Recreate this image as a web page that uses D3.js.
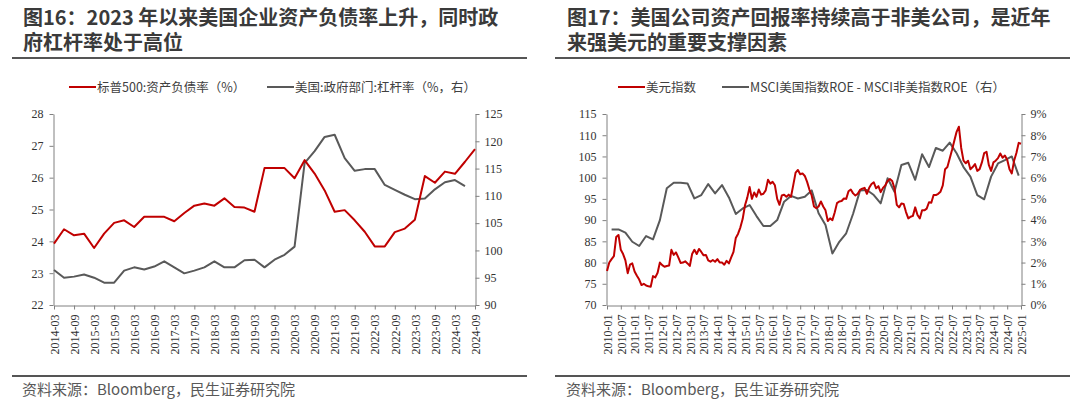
<!DOCTYPE html>
<html><head><meta charset="utf-8">
<script src="https://cdn.jsdelivr.net/npm/d3@7"></script>
<style>
body{margin:0;background:#fff;}
svg{display:block;}
</style></head><body>
<svg id="c" width="1080" height="407"></svg>
<script>
// ---------------- DATA ----------------
// Figure 16 (quarterly)
const leftTickLabels = ["2014-03","2014-09","2015-03","2015-09","2016-03","2016-09","2017-03","2017-09","2018-03","2018-09","2019-03","2019-09","2020-03","2020-09","2021-03","2021-09","2022-03","2022-09","2023-03","2023-09","2024-03","2024-09"];
const spDebtRatio = [23.93,24.38,24.19,24.24,23.79,24.24,24.58,24.66,24.45,24.77,24.77,24.77,24.63,24.89,25.12,25.19,25.12,25.35,25.08,25.06,24.93,26.30,26.30,26.30,25.98,26.55,26.13,25.60,24.93,24.98,24.66,24.30,23.84,23.84,24.29,24.40,24.68,26.05,25.84,26.19,26.12,26.50,26.90];
const usGovLeverage = [96.4,95.0,95.2,95.6,95.0,94.1,94.1,96.3,96.9,96.5,97.05,98.0,96.9,95.8,96.3,96.9,98.0,96.9,96.9,98.2,98.3,96.9,98.3,99.2,100.7,116.0,118.2,120.8,121.2,116.9,114.6,114.9,114.9,112.0,111.1,110.2,109.4,109.5,111.2,112.5,112.9,111.8];
const leftYTicks = [22,23,24,25,26,27,28];
const leftY2Ticks = [90,95,100,105,110,115,120,125];

// Figure 17 (monthly DXY, quarterly ROE spread)
const rightTickLabels = ["2010-01","2010-07","2011-01","2011-07","2012-01","2012-07","2013-01","2013-07","2014-01","2014-07","2015-01","2015-07","2016-01","2016-07","2017-01","2017-07","2018-01","2018-07","2019-01","2019-07","2020-01","2020-07","2021-01","2021-07","2022-01","2022-07","2023-01","2023-07","2024-01","2024-07","2025-01"];
const dollarIndex = [
 78.0,80.0,80.8,81.5,86.0,86.5,83.0,82.0,80.5,77.5,79.5,79.8,
 77.9,76.9,76.0,74.7,75.0,74.6,74.4,74.3,76.8,76.5,77.6,80.0,
 79.4,79.0,79.2,79.3,83.0,81.8,82.4,81.2,79.9,80.0,80.3,79.8,
 79.2,82.0,83.0,82.0,83.2,82.5,81.7,81.8,80.5,80.2,80.6,80.2,
 80.8,80.0,80.0,79.5,80.4,79.8,81.2,82.5,85.8,86.8,88.3,90.3,
 93.5,95.3,97.8,95.0,96.5,95.5,97.2,96.0,96.2,97.0,99.5,98.6,
 99.0,98.2,95.0,93.6,95.8,96.0,95.5,96.0,95.5,98.3,101.2,101.8,
 100.8,101.0,100.4,99.0,97.2,95.8,93.2,92.8,93.2,94.4,93.2,92.3,
 89.8,90.4,90.0,91.8,94.0,94.4,94.5,95.1,95.0,96.8,97.2,96.3,
 95.8,96.2,97.1,97.4,97.6,96.2,97.6,98.5,98.9,97.5,98.0,96.6,
 97.6,98.2,99.2,99.7,99.2,97.5,93.6,93.0,93.9,93.8,91.9,90.4,
 90.8,91.0,93.0,91.2,90.4,92.3,92.3,92.7,94.2,94.1,95.9,95.9,
 96.2,96.7,98.2,102.0,102.5,104.5,106.5,108.7,110.8,112.0,107.0,104.0,
 103.4,104.0,102.0,102.5,103.2,101.6,102.0,103.6,105.8,106.1,103.0,101.6,
 103.6,104.0,104.6,105.7,104.7,105.2,104.2,102.0,101.0,104.0,105.8,108.2,
 108.0];
const roeSpread = [3.56,3.56,3.41,2.98,2.78,3.25,3.09,4.0,5.5,5.76,5.76,5.73,5.02,5.18,5.7,5.26,5.65,5.07,4.29,4.55,4.71,4.19,3.72,3.72,4.0,4.87,5.14,5.02,5.1,5.4,4.32,3.77,2.43,2.98,3.38,4.3,5.39,5.42,5.18,4.79,5.97,5.34,6.6,6.7,5.9,7.1,6.5,7.4,7.27,7.65,7.15,6.5,6.05,5.18,4.98,6.05,6.67,6.83,7.0,6.1];
const rightYTicks = [70,75,80,85,90,95,100,105,110,115];
const rightY2Ticks = [0,1,2,3,4,5,6,7,8,9];

// category helpers (dates only, not values)
const fmt = d3.timeFormat("%Y-%m");
const quarters = d3.timeMonth.range(new Date(2014,2,1), new Date(2024,9,1), 3).map(fmt);   // 2014-03 .. 2024-09
const months = d3.timeMonth.range(new Date(2010,0,1), new Date(2025,1,1)).map(fmt);         // 2010-01 .. 2025-01
const roeDates = d3.timeMonth.range(new Date(2010,2,1), new Date(2025,0,1), 3).map(fmt);   // 2010-03 .. 2024-12

// ---------------- STYLE ----------------
const CJK = "'Noto Sans CJK SC','Noto Sans',sans-serif";
const NUM = "'Liberation Serif','Times New Roman',serif";
const RED = "#c00000", GRAY = "#595959", TXT = "#404040", AX = "#808080";

const svg = d3.select("#c");
svg.append("rect").attr("width",1080).attr("height",407).attr("fill","#fff");

function header(x, lines, lineX0, lineX1){
  lines.forEach((t,i)=>{
    svg.append("text").attr("x",x).attr("y",25+i*25).text(t)
      .attr("font-family",CJK).attr("font-size",20).attr("font-weight","bold").attr("fill","#3a3a3a");
  });
  svg.append("line").attr("x1",lineX0).attr("x2",lineX1).attr("y1",58).attr("y2",58)
    .attr("stroke","#555").attr("stroke-width",2);
  svg.append("line").attr("x1",lineX0).attr("x2",lineX1).attr("y1",376).attr("y2",376)
    .attr("stroke","#555").attr("stroke-width",2);
  svg.append("text").attr("x",x-1).attr("y",395).text("资料来源：Bloomberg，民生证券研究院")
    .attr("font-family",CJK).attr("font-size",15).attr("fill","#595959");
}
header(23, ["图16：2023 年以来美国企业资产负债率上升，同时政","府杠杆率处于高位"], 12, 527);
header(567, ["图17：美国公司资产回报率持续高于非美公司，是近年","来强美元的重要支撑因素"], 555, 1070);

function legend(items, y){
  items.forEach(it=>{
    svg.append("line").attr("x1",it.x).attr("x2",it.x+27).attr("y1",y).attr("y2",y)
      .attr("stroke",it.color).attr("stroke-width",2);
    svg.append("text").attr("x",it.x+28).attr("y",y+4.5).text(it.label)
      .attr("font-family",CJK).attr("font-size",12.5).attr("fill",TXT);
  });
}
legend([{x:69,color:RED,label:"标普500:资产负债率（%）"},{x:267,color:GRAY,label:"美国:政府部门:杠杆率（%，右）"}], 87);
legend([{x:618,color:RED,label:"美元指数"},{x:722,color:GRAY,label:"MSCI美国指数ROE - MSCI非美指数ROE（右）"}], 87);

function styleAxis(g){
  g.attr("font-family",NUM).attr("font-size",12);
  g.selectAll("path,line").attr("stroke",AX).attr("stroke-width",1);
  g.selectAll("text").style("font-family",NUM).style("font-size","12px").attr("fill","#333");
}

function chart(o){
  const x = d3.scalePoint().domain(o.cats).range([o.x0,o.x1]);
  const yL = d3.scaleLinear().domain(o.yL).range([o.yb,o.yt]);
  const yR = d3.scaleLinear().domain(o.yR).range([o.yb,o.yt]);

  const gx = svg.append("g").attr("transform",`translate(0,${o.yb+0.5})`)
    .call(d3.axisBottom(x).tickValues(o.xTicks).tickSize(4).tickSizeOuter(0));
  styleAxis(gx);
  gx.selectAll("text").attr("transform","rotate(-90)").attr("text-anchor","end")
    .attr("x",-9).attr("y",0).attr("dy","0.35em");

  const gl = svg.append("g").attr("transform",`translate(${o.x0-0.5},0)`)
    .call(d3.axisLeft(yL).tickValues(o.yLTicks).tickSize(4).tickSizeOuter(0).tickPadding(6).tickFormat(d=>d));
  styleAxis(gl);
  const gr = svg.append("g").attr("transform",`translate(${o.x1+0.5},0)`)
    .call(d3.axisRight(yR).tickValues(o.yRTicks).tickSize(4).tickSizeOuter(0).tickPadding(5).tickFormat(o.yRFmt||(d=>d)));
  styleAxis(gr);

  const lineR = d3.line().x((d,i)=>x(o.rDates[i])).y(d=>yR(d));
  svg.append("path").datum(o.rVals).attr("d",lineR).attr("fill","none")
    .attr("stroke",GRAY).attr("stroke-width",2).attr("stroke-linejoin","round");
  const lineL = d3.line().x((d,i)=>x(o.lDates[i])).y(d=>yL(d));
  svg.append("path").datum(o.lVals).attr("d",lineL).attr("fill","none")
    .attr("stroke",RED).attr("stroke-width",2).attr("stroke-linejoin","round");
}

chart({cats:quarters, x0:54, x1:475, yb:305, yt:114, yL:[22,28], yR:[90,125],
  xTicks:leftTickLabels, yLTicks:leftYTicks, yRTicks:leftY2Ticks,
  lDates:quarters, lVals:spDebtRatio, rDates:quarters, rVals:usGovLeverage});

chart({cats:months, x0:607, x1:1021, yb:305, yt:114, yL:[70,115], yR:[0,9],
  xTicks:rightTickLabels, yLTicks:rightYTicks, yRTicks:rightY2Ticks, yRFmt:d=>d+"%",
  lDates:months, lVals:dollarIndex, rDates:roeDates, rVals:roeSpread});
</script>
</body></html>
